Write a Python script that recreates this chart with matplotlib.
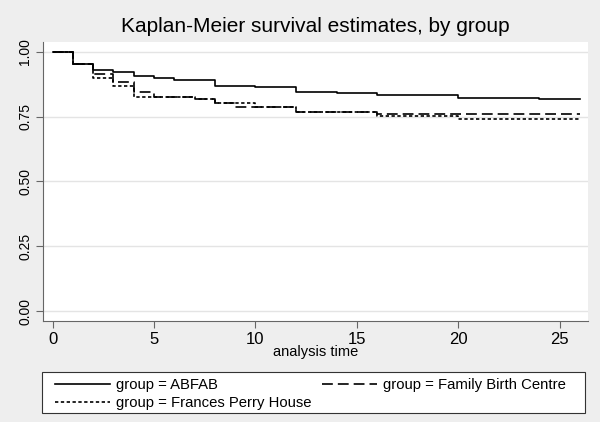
import matplotlib
matplotlib.use("Agg")
import matplotlib.pyplot as plt
from matplotlib.patches import Rectangle

# survival step functions (time, survival)
abfab_t = [0, 1, 2, 3, 4, 5, 6, 8, 10, 12, 14, 16, 20, 24, 26]
abfab_s = [1.0, 0.953, 0.931, 0.923, 0.905, 0.899, 0.889, 0.868, 0.864, 0.845, 0.840, 0.833, 0.823, 0.818, 0.818]

fbc_t = [0, 1, 2, 3, 4, 5, 7, 8, 9, 12, 16, 26]
fbc_s = [1.0, 0.953, 0.913, 0.882, 0.845, 0.826, 0.818, 0.802, 0.786, 0.767, 0.760, 0.760]

fph_t = [0, 1, 2, 3, 4, 7, 8, 10, 12, 16, 20, 26]
fph_s = [1.0, 0.953, 0.897, 0.868, 0.825, 0.818, 0.802, 0.786, 0.766, 0.751, 0.741, 0.741]

group_names = ["ABFAB", "Family Birth Centre", "Frances Perry House"]
x_ticks = [0, 5, 10, 15, 20, 25]
y_ticks = [0.0, 0.25, 0.5, 0.75, 1.0]

plt.rcParams["font.family"] = ["Liberation Sans", "DejaVu Sans"]
bg = "#eeeeee"
W, H = 600, 422

fig = plt.figure(figsize=(6, 4.22), dpi=100, facecolor=bg)
ax = fig.add_axes([43.3 / W, 1 - 320.7 / H, (588 - 43.3) / W, (320.7 - 42.3) / H])
ax.set_facecolor("white")

l1, = ax.plot(abfab_t, abfab_s, drawstyle="steps-post", color="black", lw=1.2, label=f"group = {group_names[0]}")
l2, = ax.plot(fbc_t, fbc_s, drawstyle="steps-post", color="black", lw=1.2, linestyle=(0, (6.5, 3)), label=f"group = {group_names[1]}")
l3, = ax.plot(fph_t, fph_s, drawstyle="steps-post", color="black", lw=1.2, linestyle=(0, (2, 1.5)), label=f"group = {group_names[2]}")

ax.set_xlim(-0.46, 26.4)
ax.set_ylim(-0.037, 1.036)
ax.set_xticks(x_ticks)
ax.set_yticks(y_ticks)
ax.set_yticklabels([f"{v:.2f}" for v in y_ticks], rotation=90, va="center", fontsize=10)
ax.grid(axis="y", color="#e4e4e4", lw=1)
ax.set_axisbelow(True)
for s in ["top", "right"]:
    ax.spines[s].set_visible(False)
for s in ["left", "bottom"]:
    ax.spines[s].set_color("#666666")
ax.tick_params(direction="out", length=5, color="#666666", pad=3)
ax.tick_params(axis="x", labelsize=12, pad=3)
ax.set_xlabel("analysis time", fontsize=10.5, labelpad=-1)

ax_cx = (43.3 + 588) / 2 / W
fig.text(ax_cx, 1 - 26 / H, "Kaplan-Meier survival estimates, by group", ha="center", va="center", fontsize=15)

# legend frame drawn by hand, entries in row-major order: ABFAB, FBC / FPH
fig.patches.append(Rectangle((42 / W, 1 - 413 / H), (585 - 42) / W, 41 / H, transform=fig.transFigure,
                             facecolor="white", edgecolor="#333333", lw=0.8, zorder=1))
leg = fig.legend(handles=[l1, l3, l2], ncol=2, loc="center left",
                 bbox_to_anchor=(55 / W, 1 - 394 / H), fontsize=10.7, handlelength=3.7,
                 handletextpad=0.4, columnspacing=0.7, frameon=False, borderpad=0,
                 borderaxespad=0, labelspacing=0.25)

fig.savefig("out.png", dpi=100, facecolor=bg)
